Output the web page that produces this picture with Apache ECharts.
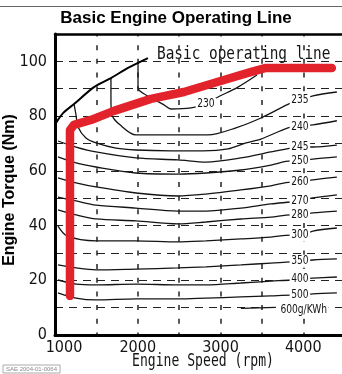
<!DOCTYPE html>
<html>
<head>
<meta charset="utf-8">
<script src="https://cdn.jsdelivr.net/npm/echarts@6/dist/echarts.min.js"></script>
<style>
  html, body { margin: 0; padding: 0; background: #fff; }
  #chart { width: 342px; height: 374px; }
</style>
</head>
<body>
<div id="chart"></div>
<script>
// Axis ticks
const speedTicks = [1000, 2000, 3000, 4000];
const torqueTicks = [0, 20, 40, 60, 80, 100];

// Full-load (WOT) torque curve, [rpm, Nm]
const wotCurve = [[1012, 77.5], [1097, 81.1], [1230, 84.4], [1471, 90.6], [1676, 93.9], [1882, 97.6], [2123, 101.2]];

// Basic operating line, [rpm, Nm]
const operatingLine = [[1181, 14.3], [1181, 74.9], [1229, 76.8], [1435, 78.6], [1713, 81.9], [2159, 86.3],
  [2558, 88.8], [2920, 92.1], [3331, 95.8], [3548, 97.6], [4345, 97.6]];

// BSFC iso-lines (g/kWh), [rpm, Nm]
const bsfc230 = [[2003, 99.4], [2003, 90.3], [2099, 87.7], [2317, 84.1], [2401, 82.6], [2643, 83.0], [2824, 84.4],
  [2945, 86.6], [3211, 90.6], [3440, 95.0]];
const bsfc235 = [[1676, 93.9], [1676, 85.9], [1688, 80.4], [1785, 76.8], [1978, 73.1], [2486, 73.1], [2848, 73.1],
  [3186, 75.7], [3488, 79.3], [3851, 84.8], [3960, 85.9], [4117, 87.4], [4406, 88.8]];
const bsfc240 = [[1230, 84.4], [1254, 80.4], [1278, 76.0], [1374, 72.0], [1495, 70.2], [1737, 68.3], [1978, 67.6],
  [2401, 67.3], [2788, 67.3], [3090, 68.0], [3307, 70.2], [3488, 71.6], [3815, 75.7], [3959, 76.4], [4116, 76.8], [4406, 78.3]];
const bsfc245 = [[1036, 70.9], [1254, 68.7], [1495, 66.9], [1978, 64.7], [2485, 64.0], [2824, 63.2], [3246, 64.7],
  [3609, 66.9], [3850, 68.3], [3959, 68.7], [4116, 68.7], [4406, 69.4]];
const bsfc250 = [[1036, 65.1], [1254, 62.9], [1495, 61.4], [1978, 59.2], [2485, 58.8], [2824, 59.2], [3246, 60.3],
  [3609, 62.1], [3850, 63.6], [3959, 63.6], [4116, 64.3], [4406, 65.1]];
const bsfc260 = [[1036, 57.4], [1254, 55.6], [1495, 54.1], [1978, 51.9], [2485, 50.8], [2824, 51.5], [3246, 53.0],
  [3609, 54.5], [3850, 55.9], [3959, 55.9], [4116, 56.7], [4406, 57.7]];
const bsfc270 = [[1036, 50.4], [1254, 49.0], [1495, 47.5], [1978, 46.4], [2485, 45.3], [2824, 45.3], [3246, 46.4],
  [3609, 47.9], [3850, 48.6], [3959, 49.0], [4116, 50.1], [4406, 51.2]];
const bsfc280 = [[1036, 45.7], [1254, 43.9], [1495, 42.4], [1978, 41.7], [2485, 40.6], [2824, 41.3], [3246, 42.4],
  [3609, 43.1], [3850, 43.9], [3959, 43.9], [4116, 44.6], [4406, 45.3]];
const bsfc300 = [[1036, 39.8], [1145, 36.2], [1495, 34.4], [1978, 34.4], [2485, 34.0], [2824, 34.4], [3246, 35.1],
  [3609, 35.8], [3850, 36.5], [3959, 36.5], [4116, 38.0], [4406, 39.1]];
const bsfc350 = [[1036, 25.6], [1254, 24.5], [1495, 23.8], [1978, 24.1], [2485, 24.5], [2824, 24.9], [3246, 25.6],
  [3609, 26.3], [3850, 26.7], [3959, 27.0], [4116, 27.4], [4406, 27.8]];
const bsfc400 = [[1036, 20.1], [1254, 18.6], [1495, 18.3], [1978, 18.6], [2485, 18.3], [2824, 18.3], [3246, 19.0],
  [3609, 19.7], [3850, 20.1], [3959, 20.5], [4116, 20.8], [4406, 21.2]];
const bsfc500 = [[1036, 15.4], [1254, 13.5], [1495, 12.8], [1978, 13.2], [2485, 13.2], [2824, 13.5], [3246, 13.9],
  [3609, 14.3], [3850, 14.6], [3959, 14.6], [4116, 15.0], [4406, 15.4]];
const bsfc600 = [[3246, 9.7], [3669, 10.1]];

// Iso-line labels
const isoLabelText = ['230', '235', '240', '245', '250', '260', '270', '280', '300', '350', '400', '500'];
const isoLabelSpeed = [2824, 3960, 3959, 3959, 3959, 3959, 3959, 3959, 3959, 3959, 3959, 3959];
const isoLabelTorque = [84.4, 85.9, 76.2, 68.7, 63.6, 55.9, 49.0, 43.9, 36.5, 27.0, 20.5, 14.6];
const unitLabelText = '600g/KWh';
const unitLabelPos = [3705, 9.1];

const isoLines = [bsfc230, bsfc235, bsfc240, bsfc245, bsfc250, bsfc260, bsfc270, bsfc280, bsfc300, bsfc350, bsfc400, bsfc500, bsfc600];

const narrow = '"Liberation Sans Narrow", "DejaVu Sans Condensed", "Liberation Sans", sans-serif';
const mono = '"DejaVu Sans Mono", "Liberation Mono", monospace';
const ink = '#141414';

const isoSeries = isoLines.map(pts => ({
  type: 'line',
  data: pts,
  symbol: 'none',
  smooth: 0.3,
  silent: true,
  z: 3,
  lineStyle: { color: ink, width: 1.3 }
}));

const labelItems = isoLabelText.map((t, i) => [isoLabelSpeed[i], isoLabelTorque[i], t, 'center']);
labelItems.push([unitLabelPos[0], unitLabelPos[1], unitLabelText, 'left']);

const chart = echarts.init(document.getElementById('chart'), null, { renderer: 'canvas' });

chart.setOption({
  animation: false,
  backgroundColor: '#fff',
  grid: { left: 55, top: 34, width: 288, bottom: 39, outerBoundsMode: 'none', containLabel: false },
  xAxis: [{
    type: 'value', min: 1000, max: 4480, interval: 500,
    axisLine: { show: true, lineStyle: { color: '#000', width: 3 } },
    axisTick: { show: false },
    axisLabel: {
      margin: 5, color: ink, fontFamily: narrow, fontSize: 16,
      showMaxLabel: false,
      formatter: v => speedTicks.includes(v) ? (v === speedTicks[0] ? '{first|' + v + '}' : String(v)) : '',
      rich: { first: { padding: [0, 0, 0, 18], fontFamily: narrow, fontSize: 16, color: ink } }
    },
    splitLine: { show: true, lineStyle: { color: '#222', width: 1.5, type: [5, 8.68], dashOffset: 2.5 } }
  }, {
    type: 'value', min: 1000, max: 4480, position: 'top',
    axisLine: { show: true, lineStyle: { color: '#000', width: 2.5 } },
    axisTick: { show: false }, axisLabel: { show: false }, splitLine: { show: false }
  }],
  yAxis: {
    type: 'value', min: 0, max: 110, interval: 10,
    axisLine: { show: true, lineStyle: { color: '#000', width: 3 } },
    axisTick: { show: false },
    axisLabel: {
      margin: 8, color: ink, fontFamily: narrow, fontSize: 16, padding: [7, 0, 0, 0],
      formatter: v => torqueTicks.includes(v) ? String(v) : ''
    },
    splitLine: { show: true, lineStyle: { color: '#222', width: 1.2, type: [8, 6] } }
  },
  series: [
    ...isoSeries,
    {
      type: 'line', data: wotCurve, symbol: 'none', smooth: 0.3, silent: true, z: 4,
      lineStyle: { color: '#000', width: 2 }
    },
    {
      type: 'custom', silent: true, z: 5,
      data: labelItems,
      encode: { x: 0, y: 1 },
      renderItem: (params, api) => {
        const item = labelItems[params.dataIndex];
        const p = api.coord([item[0], item[1]]);
        return {
          type: 'text', x: p[0], y: p[1], scaleX: 0.78,
          style: {
            text: item[2], fill: ink, font: '13px ' + narrow,
            align: item[3], verticalAlign: 'middle',
            backgroundColor: '#fff', padding: [0, 2]
          }
        };
      }
    },
    {
      type: 'line', data: operatingLine, symbol: 'none', silent: true, z: 6,
      lineStyle: { color: '#e2232b', width: 8.5, cap: 'round', join: 'round' }
    }
  ],
  graphic: [
    { type: 'line', shape: { x1: 0, y1: 6.5, x2: 342, y2: 6.5 }, style: { stroke: '#666', lineWidth: 1 }, silent: true },
    {
      type: 'text', x: 176, y: 18, silent: true,
      style: { text: 'Basic Engine Operating Line', fill: '#000', font: 'bold 17px "Liberation Sans", Arial, sans-serif', align: 'center', verticalAlign: 'middle' }
    },
    {
      type: 'text', x: 157, y: 54, scaleX: 0.8, silent: true,
      style: { text: 'Basic operating line', fill: ink, font: '18px ' + mono, align: 'left', verticalAlign: 'middle', backgroundColor: '#fff' }
    },
    {
      type: 'text', x: 203, y: 362, scaleX: 0.77, silent: true,
      style: { text: 'Engine Speed (rpm)', fill: ink, font: '17px ' + mono, align: 'center', verticalAlign: 'middle' }
    },
    {
      type: 'text', x: 10, y: 190, rotation: Math.PI / 2, silent: true,
      style: { text: 'Engine Torque (Nm)', fill: '#000', font: 'bold 16px "Liberation Sans", Arial, sans-serif', align: 'center', verticalAlign: 'middle' }
    },
    {
      type: 'text', x: 3, y: 369, silent: true,
      style: { text: 'SAE 2004-01-0064', fill: '#8a8a8a', font: '6px "Liberation Sans", sans-serif', align: 'left', verticalAlign: 'middle',
        borderColor: '#aaa', borderWidth: 1, padding: [1, 3] }
    }
  ]
});
</script>
</body>
</html>
